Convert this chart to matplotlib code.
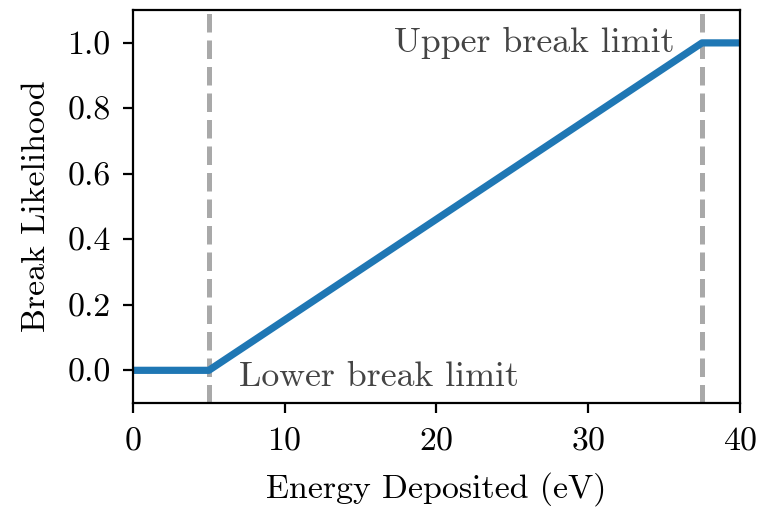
import numpy as np
import matplotlib
matplotlib.use("Agg")
import matplotlib.pyplot as plt

plt.rcParams["font.family"] = "serif"
plt.rcParams["font.serif"] = ["cmr10", "DejaVu Serif"]
plt.rcParams["mathtext.fontset"] = "cm"
plt.rcParams["axes.formatter.use_mathtext"] = True
plt.rcParams["font.size"] = 12.2
plt.rcParams["xtick.major.pad"] = 5
plt.rcParams["ytick.major.pad"] = 4.5

# break model parameters (eV)
lower_limit = 5.0
upper_limit = 37.5
energy_pts = [0.0, lower_limit, upper_limit, 40.0]
likelihood_pts = [0.0, 0.0, 1.0, 1.0]

fig = plt.figure(figsize=(766 / 200, 507 / 200), dpi=200)
ax = fig.add_axes([0.1736, 0.205, 0.966 - 0.1736, 0.980 - 0.205])

ax.axvline(lower_limit, color="darkgray", ls="--", lw=1.8, zorder=1)
ax.axvline(upper_limit, color="darkgray", ls="--", lw=1.8, zorder=1)
ax.plot(energy_pts, likelihood_pts, color="tab:blue", lw=2.6, zorder=2)

ax.text(lower_limit + 2, -0.02, "Lower break limit", ha="left", va="center",
        color="#444444", fontsize=12.9)
ax.text(upper_limit - 1.8, 1.0, "Upper break limit", ha="right", va="center",
        color="#444444", fontsize=12.9)

ax.set_xlim(0, 40)
ax.set_ylim(-0.1, 1.1)
ax.set_xticks(np.arange(0, 41, 10))
ax.set_yticks(np.arange(0, 1.01, 0.2))
ax.yaxis.set_major_formatter(plt.FormatStrFormatter("%.1f"))
ax.set_xlabel("Energy Deposited (eV)", labelpad=6)
ax.set_ylabel("Break Likelihood", labelpad=6)

fig.savefig("out.png", dpi=200)
